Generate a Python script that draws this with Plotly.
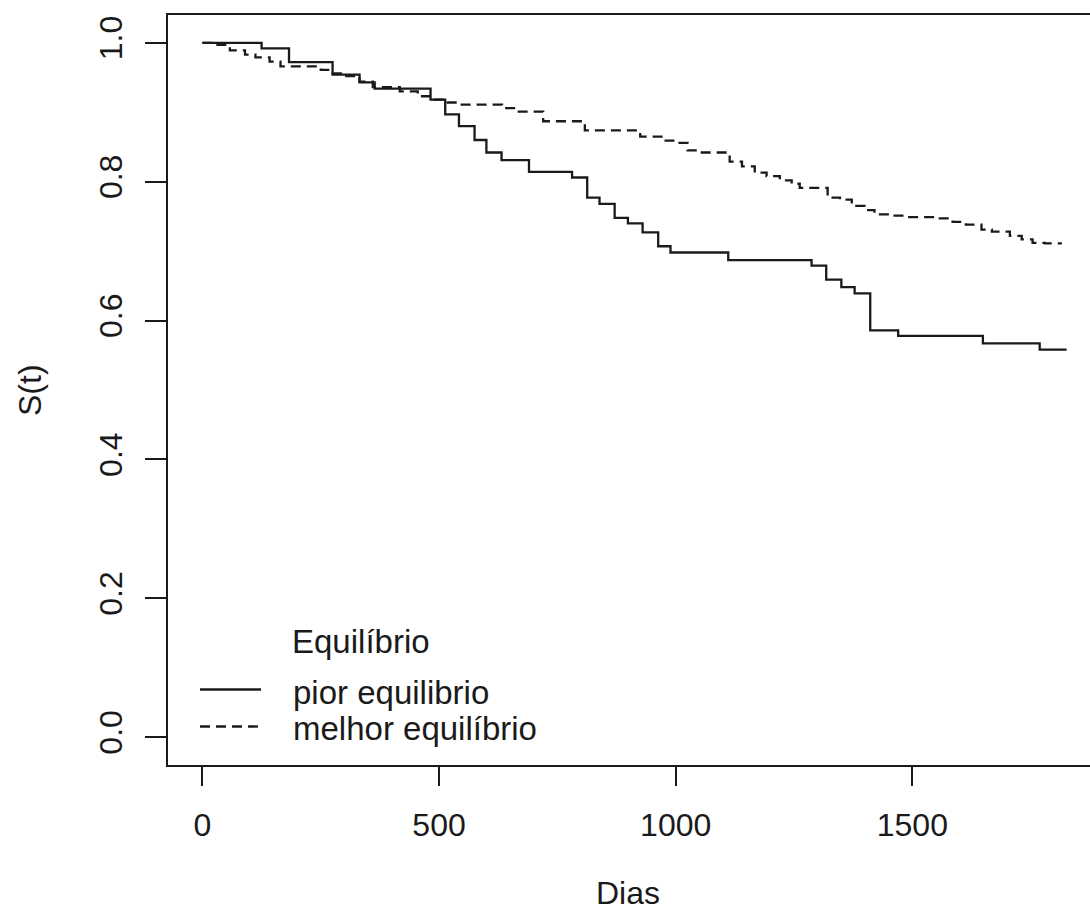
import plotly.graph_objects as go

# ---- data ----
pior_dias = [0, 125, 183, 275, 332, 364, 482, 513, 542, 575, 600, 632, 690, 781, 813,
             839, 871, 899, 930, 963, 989, 1111, 1287, 1318, 1350, 1378, 1411, 1470,
             1649, 1769, 1826]
pior_s = [1.0, 0.992, 0.972, 0.954, 0.943, 0.934, 0.918, 0.897, 0.880, 0.860, 0.842,
          0.831, 0.814, 0.806, 0.777, 0.768, 0.748, 0.740, 0.727, 0.707, 0.698, 0.687,
          0.679, 0.659, 0.648, 0.639, 0.586, 0.578, 0.567, 0.558, 0.558]

melhor_dias = [0, 28, 58, 90, 112, 142, 165, 250, 275, 304, 332, 360, 417, 455, 490, 518,
               545, 633, 665, 720, 808, 925, 970, 1000, 1025, 1050, 1114, 1140, 1167,
               1192, 1220, 1245, 1262, 1321, 1347, 1372, 1399, 1420, 1452, 1484, 1553,
               1585, 1613, 1646, 1668, 1706, 1731, 1754, 1780, 1816]
melhor_s = [1.0, 0.997, 0.989, 0.983, 0.979, 0.973, 0.966, 0.961, 0.956, 0.952, 0.944,
            0.936, 0.930, 0.923, 0.918, 0.914, 0.911, 0.906, 0.901, 0.887, 0.874, 0.865,
            0.859, 0.856, 0.845, 0.842, 0.829, 0.822, 0.813, 0.808, 0.802, 0.797, 0.791,
            0.777, 0.774, 0.765, 0.759, 0.753, 0.751, 0.749, 0.747, 0.742, 0.738, 0.731,
            0.728, 0.722, 0.717, 0.712, 0.711, 0.711]

x_ticks = [0, 500, 1000, 1500]
y_ticks = [0.0, 0.2, 0.4, 0.6, 0.8, 1.0]
y_tick_labels = ["0.0", "0.2", "0.4", "0.6", "0.8", "1.0"]
legend_title = "Equilíbrio"
legend_labels = ["pior equilibrio", "melhor equilíbrio"]
x_title = "Dias"
y_title = "S(t)"

FONT = "Liberation Sans, Arial, Helvetica, sans-serif"
INK = "#1a1a1a"

W, H = 1090, 917
L, R, T, B = 168, 0, 15, 152
PW, PH = W - L - R, H - T - B


def px_to_paper(px, py):
    return (px - L) / PW, (H - B - py) / PH


fig = go.Figure()
fig.add_trace(go.Scatter(x=pior_dias, y=pior_s, mode="lines", line_shape="hv",
                         line=dict(color=INK, width=2.3), name=legend_labels[0],
                         showlegend=False))
fig.add_trace(go.Scatter(x=melhor_dias, y=melhor_s, mode="lines", line_shape="hv",
                         line=dict(color=INK, width=2.3, dash="10px,6px"),
                         name=legend_labels[1], showlegend=False))

# legend drawn by hand (R-style)
shapes = []
annotations = []
for i, (lab, dash) in enumerate(zip(legend_labels, ["solid", "10px,6px"])):
    py = [689.5, 726.5][i]
    x0, y0 = px_to_paper(200, py)
    x1, _ = px_to_paper(261, py)
    shapes.append(dict(type="line", xref="paper", yref="paper", x0=x0, x1=x1, y0=y0, y1=y0,
                       line=dict(color=INK, width=2.3, dash=dash)))
    tx, ty = px_to_paper(291, [692, 728][i])
    annotations.append(dict(text=lab, xref="paper", yref="paper", x=tx, y=ty,
                            xanchor="left", yanchor="middle", showarrow=False,
                            font=dict(family=FONT, size=33, color=INK)))
tx, ty = px_to_paper(290, 641)
annotations.append(dict(text=legend_title, xref="paper", yref="paper", x=tx, y=ty,
                        xanchor="left", yanchor="middle", showarrow=False,
                        font=dict(family=FONT, size=33, color=INK)))

# axis titles
ax, ay = px_to_paper(628, 893)
annotations.append(dict(text=x_title, xref="paper", yref="paper", x=ax, y=ay,
                        xanchor="center", yanchor="middle", showarrow=False,
                        font=dict(family=FONT, size=32, color=INK)))
ax, ay = px_to_paper(30, 390)
annotations.append(dict(text=y_title, xref="paper", yref="paper", x=ax, y=ay,
                        xanchor="center", yanchor="middle", showarrow=False, textangle=-90,
                        font=dict(family=FONT, size=32, color=INK)))

x_left = -72.7
x_right = x_left + PW / 0.4733

fig.update_layout(
    width=W, height=H,
    margin=dict(l=L, r=R, t=T, b=B, pad=0),
    paper_bgcolor="white", plot_bgcolor="white",
    shapes=shapes, annotations=annotations,
    font=dict(family=FONT, size=32, color=INK),
    xaxis=dict(range=[x_left, x_right], tickvals=x_ticks, ticks="outside", ticklen=19,
               tickwidth=2, tickcolor=INK, showline=True, linecolor=INK, linewidth=2,
               mirror=True, showgrid=False, zeroline=False,
               tickfont=dict(family=FONT, size=32, color=INK), ticklabelstandoff=12),
    yaxis=dict(range=[-0.04, 1.04], tickvals=y_ticks, ticktext=y_tick_labels,
               ticks="outside", ticklen=21, tickwidth=2, tickcolor=INK, showline=True,
               linecolor=INK, linewidth=2, mirror=False, showgrid=False, zeroline=False,
               tickangle=-90, tickfont=dict(family=FONT, size=32, color=INK),
               ticklabelstandoff=10),
)

fig.write_html("out.html")
